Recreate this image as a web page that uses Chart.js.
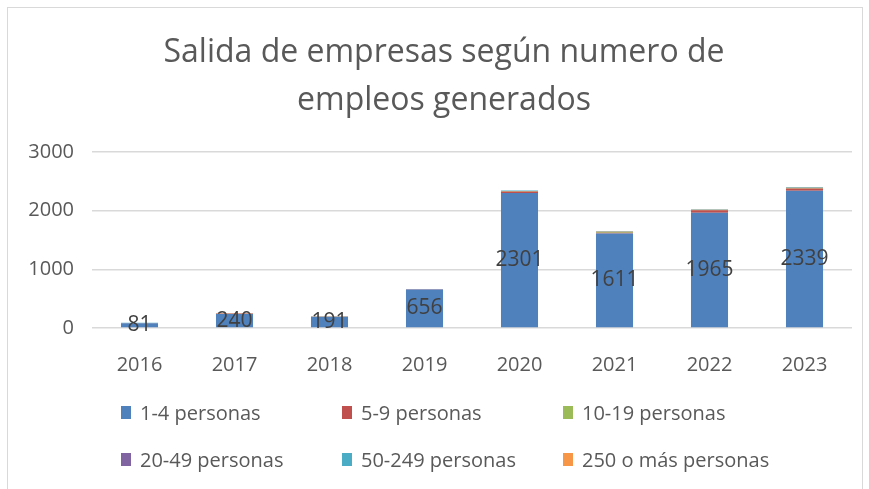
<!DOCTYPE html>
<html>
<head>
<meta charset="utf-8">
<title>Salida de empresas</title>
<script src="https://cdn.jsdelivr.net/npm/chart.js@4.4.1/dist/chart.umd.min.js"></script>
<style>
  body { margin: 0; background: #fff; }
  #wrap { position: relative; width: 869px; height: 489px; overflow: hidden; }
  #frame { position: absolute; left: 7px; top: 7px; width: 854px; height: 500px; border: 1px solid #d9d9d9; }
  #chart { position: absolute; left: 0; top: 0; }
  #title { position: absolute; left: 0; top: 26px; width: 888px; text-align: center;
           font: 32px/48px "Open Sans"; color: #595959; }
  .leg { position: absolute; font: 20px "Open Sans"; color: #595959; display: flex; align-items: center; white-space: nowrap; height: 28px; }
  .leg .box { display: inline-block; width: 10px; height: 13px; margin-right: 9px; }
</style>
</head>
<body>
<div id="wrap">
  <div id="frame"></div>
  <canvas id="chart" width="869" height="489"></canvas>
  <div id="title">Salida de empresas según numero de<br>empleos generados</div>
  <div id="legend"></div>
</div>
<script>
// Salida de empresas por tamaño (número de empleos)
const years = ['2016', '2017', '2018', '2019', '2020', '2021', '2022', '2023'];

const personas1a4 = [81, 240, 191, 656, 2301, 1611, 1965, 2339];
const personas5a9 = [3, 6, 5, 4, 25, 14, 40, 40];
const personas10a19 = [1, 4, 3, 2, 8, 16, 10, 12];
const personas20a49 = [1, 1, 1, 1, 3, 3, 3, 4];
const personas50a249 = [2, 1, 2, 1, 5, 6, 5, 8];
const personas250mas = [0, 1, 0, 0, 1, 2, 2, 2];

const seriesNames = ['1-4 personas', '5-9 personas', '10-19 personas',
                     '20-49 personas', '50-249 personas', '250 o más personas'];
const seriesColors = ['#4F81BD', '#C0504D', '#9BBB59', '#8064A2', '#4BACC6', '#F79646'];
const yTicks = [0, 1000, 2000, 3000];

const seriesData = [personas1a4, personas5a9, personas10a19,
                    personas20a49, personas50a249, personas250mas];

const FONT = '"Open Sans"';
const TEXT_COLOR = '#595959';

// labels inside the 1-4 personas bars
const valueLabels = {
    id: 'valueLabels',
    afterDatasetsDraw(chart) {
        const ctx = chart.ctx;
        const meta = chart.getDatasetMeta(0);
        ctx.save();
        ctx.font = '21px ' + FONT;
        ctx.fillStyle = '#404040';
        ctx.textAlign = 'center';
        ctx.textBaseline = 'middle';
        meta.data.forEach((bar, i) => {
            const p = bar.getProps(['x', 'y', 'base'], true);
            ctx.fillText(chart.data.datasets[0].data[i], p.x, (p.y + p.base) / 2);
        });
        ctx.restore();
    }
};

const chart = new Chart(document.getElementById('chart'), {
    type: 'bar',
    data: {
        labels: years,
        datasets: seriesNames.map((name, i) => ({
            label: name,
            data: seriesData[i],
            backgroundColor: seriesColors[i],
            borderWidth: 0,
            categoryPercentage: 1,
            barPercentage: 0.39
        }))
    },
    options: {
        responsive: false,
        animation: false,
        devicePixelRatio: 1,
        layout: { padding: { left: 0, right: 17, top: 152, bottom: 0 } },
        plugins: {
            legend: { display: false },
            tooltip: { enabled: false },
            title: { display: false }
        },
        scales: {
            x: {
                stacked: true,
                grid: { display: false },
                border: { display: false },
                ticks: { color: TEXT_COLOR, font: { family: FONT, size: 20 }, padding: 17 },
                afterFit(scale) { scale.height = 161; }
            },
            y: {
                stacked: true,
                min: 0,
                max: 3000,
                afterBuildTicks(scale) { scale.ticks = yTicks.map(v => ({ value: v })); },
                grid: { color: '#d9d9d9', lineWidth: 1.5, drawTicks: false },
                border: { display: false },
                ticks: {
                    color: TEXT_COLOR,
                    font: { family: FONT, size: 20 },
                    padding: 18,
                    callback: value => String(value)
                },
                afterFit(scale) { scale.width = 92; }
            }
        }
    },
    plugins: [valueLabels]
});

// legend in three columns, two rows
const legendCols = [121, 342, 563];
const legendRows = [412, 459];
const legendEl = document.getElementById('legend');
chart.data.datasets.forEach((ds, i) => {
    const item = document.createElement('div');
    item.className = 'leg';
    item.style.left = legendCols[i % 3] + 'px';
    item.style.top = (legendRows[Math.floor(i / 3)] - 14) + 'px';
    const box = document.createElement('span');
    box.className = 'box';
    box.style.background = ds.backgroundColor;
    item.appendChild(box);
    item.appendChild(document.createTextNode(ds.label));
    legendEl.appendChild(item);
});
</script>
</body>
</html>
